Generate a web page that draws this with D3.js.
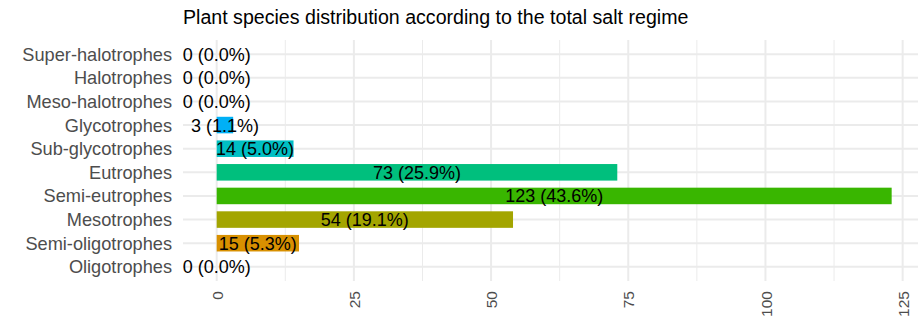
<!DOCTYPE html>
<html><head><meta charset="utf-8">
<script src="https://cdn.jsdelivr.net/npm/d3@7"></script>
<style>body{margin:0;background:#fff;} text{font-family:"Liberation Sans",Arial,sans-serif;}</style>
</head><body><svg id="c" width="923" height="324"></svg>
<script>
const categories = ["Super-halotrophes","Halotrophes","Meso-halotrophes","Glycotrophes","Sub-glycotrophes","Eutrophes","Semi-eutrophes","Mesotrophes","Semi-oligotrophes","Oligotrophes"];
const counts = [0,0,0,3,14,73,123,54,15,0];
const percents = ["0.0","0.0","0.0","1.1","5.0","25.9","43.6","19.1","5.3","0.0"];
const colors = ["#FF62BC","#E76BF3","#9590FF","#00B0F6","#00BFC4","#00BF7D","#39B600","#A3A500","#D89000","#F8766D"];
const xTicks = [0,25,50,75,100,125];
const minorTicks = [12.5,37.5,62.5,87.5,112.5];
const title = "Plant species distribution according to the total salt regime";

const svg = d3.select("#c");
const pL = 183, pR = 918, pT = 40, pB = 281;
const x = d3.scaleLinear().domain([-6.14, 127.8]).range([pL, pR]);
const y = d3.scalePoint().domain(categories).range([pT, pB]).padding(0.6);
const step = y.step();

const g = svg.append("g");
g.selectAll(".mv").data(minorTicks).join("line")
  .attr("x1", d => x(d)).attr("x2", d => x(d)).attr("y1", pT).attr("y2", pB)
  .attr("stroke", "#ebebeb").attr("stroke-width", 1);
g.selectAll(".Mv").data(xTicks).join("line")
  .attr("x1", d => x(d)).attr("x2", d => x(d)).attr("y1", pT).attr("y2", pB)
  .attr("stroke", "#ebebeb").attr("stroke-width", 2);
g.selectAll(".h").data(categories).join("line")
  .attr("x1", pL).attr("x2", pR).attr("y1", d => y(d)).attr("y2", d => y(d))
  .attr("stroke", "#ebebeb").attr("stroke-width", 2);

const bh = step * 0.7;
g.selectAll(".bar").data(categories).join("rect")
  .attr("x", x(0)).attr("y", d => y(d) - bh / 2)
  .attr("width", (d, i) => x(counts[i]) - x(0)).attr("height", bh)
  .attr("fill", (d, i) => colors[i]);

g.selectAll(".lab").data(categories).join("text")
  .attr("x", (d, i) => x(counts[i] / 2)).attr("y", d => y(d)).attr("dy", "0.36em")
  .attr("text-anchor", "middle").attr("font-size", 18).attr("fill", "#000")
  .text((d, i) => `${counts[i]} (${percents[i]}%)`);

g.selectAll(".yl").data(categories).join("text")
  .attr("x", 172).attr("y", d => y(d)).attr("dy", "0.36em")
  .attr("text-anchor", "end").attr("font-size", 18.2).attr("fill", "#4d4d4d")
  .text(d => d);

const xa = svg.append("g").attr("transform", `translate(0,${pB + 10})`)
  .call(d3.axisBottom(x).tickValues(xTicks).tickSize(0).tickPadding(0));
xa.select(".domain").remove();
xa.selectAll("text").attr("font-size", 15.5).attr("fill", "#4d4d4d")
  .attr("transform", "rotate(-90)").attr("text-anchor", "end")
  .attr("x", 0).attr("y", 0).attr("dy", "0.36em").style("font-family", '"Liberation Sans",Arial,sans-serif');

svg.append("text").attr("x", 183).attr("y", 24).attr("font-size", 19.6).attr("fill", "#000").text(title);
</script></body></html>
